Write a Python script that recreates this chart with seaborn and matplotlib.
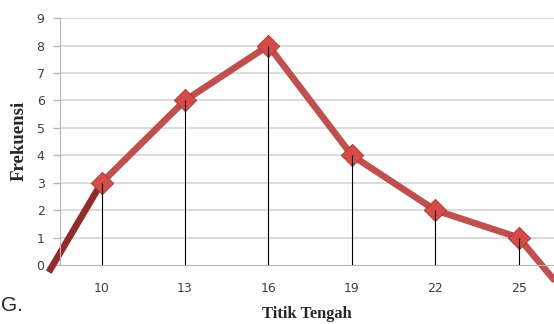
import matplotlib
matplotlib.use("Agg")
import matplotlib.pyplot as plt
import seaborn as sns
import pandas as pd

# data
titik_tengah = [10, 13, 16, 19, 22, 25]
frekuensi = [3, 6, 8, 4, 2, 1]
# tails of the polygon running off the axis
tail_x = [8.1, 26.9]
tail_y = [-0.26, -1.3]

df = pd.DataFrame({"Titik Tengah": titik_tengah, "Frekuensi": frekuensi})

sns.set_style("white")

fig = plt.figure(figsize=(5.54, 3.24), dpi=100)
ax = fig.add_axes([0.108, 0.182, 0.892, 0.762])

line_col = "#c0504d"

# grid lines
for v in range(1, 10):
    ax.axhline(v, color="#d6d6d6", lw=1.2, zorder=0)

# polygon
xs = [tail_x[0]] + titik_tengah + [tail_x[1]]
ys = [tail_y[0]] + frekuensi + [tail_y[1]]
ax.plot(xs[:2], ys[:2], color="#8e2d2b", lw=4.8, clip_on=False, zorder=2,
        solid_capstyle="butt")
ax.plot(xs[1:], ys[1:], color=line_col, lw=4.8, clip_on=False, zorder=2,
        solid_capstyle="butt")
sns.scatterplot(data=df, x="Titik Tengah", y="Frekuensi", marker="D", s=130,
                color="#d64b48", edgecolor="#a83533", linewidth=0.6,
                ax=ax, zorder=3, clip_on=False)
# drop lines
ax.vlines(df["Titik Tengah"], 0, df["Frekuensi"], color="black", lw=0.8, zorder=4)

ax.set_xlim(8.5, 26.27)
ax.set_ylim(0, 9)
ax.set_xticks(titik_tengah)
ax.set_yticks(range(0, 10))
ax.tick_params(axis="both", labelsize=9, labelcolor="#404040")
ax.tick_params(axis="y", length=5, color="#b8b8b8", width=1, pad=6, left=True)
ax.tick_params(axis="x", length=0, pad=12)
for s in ["top", "right"]:
    ax.spines[s].set_visible(False)
ax.spines["left"].set_color("#b8b8b8")
ax.spines["bottom"].set_color("#b8b8b8")
ax.set_xlabel("")
ax.set_ylabel("")

fig.text(0.034, 0.565, "Frekuensi", rotation=90, ha="center", va="center",
         fontsize=13.5, fontweight="bold", family="Liberation Serif")
fig.text(0.554, 0.031, "Titik Tengah", ha="center", va="center",
         fontsize=11.8, fontweight="bold", family="Liberation Serif")
fig.text(0.002, 0.058, "G.", ha="left", va="center", fontsize=15,
         family="Liberation Sans")

fig.savefig("out.png", dpi=100)
